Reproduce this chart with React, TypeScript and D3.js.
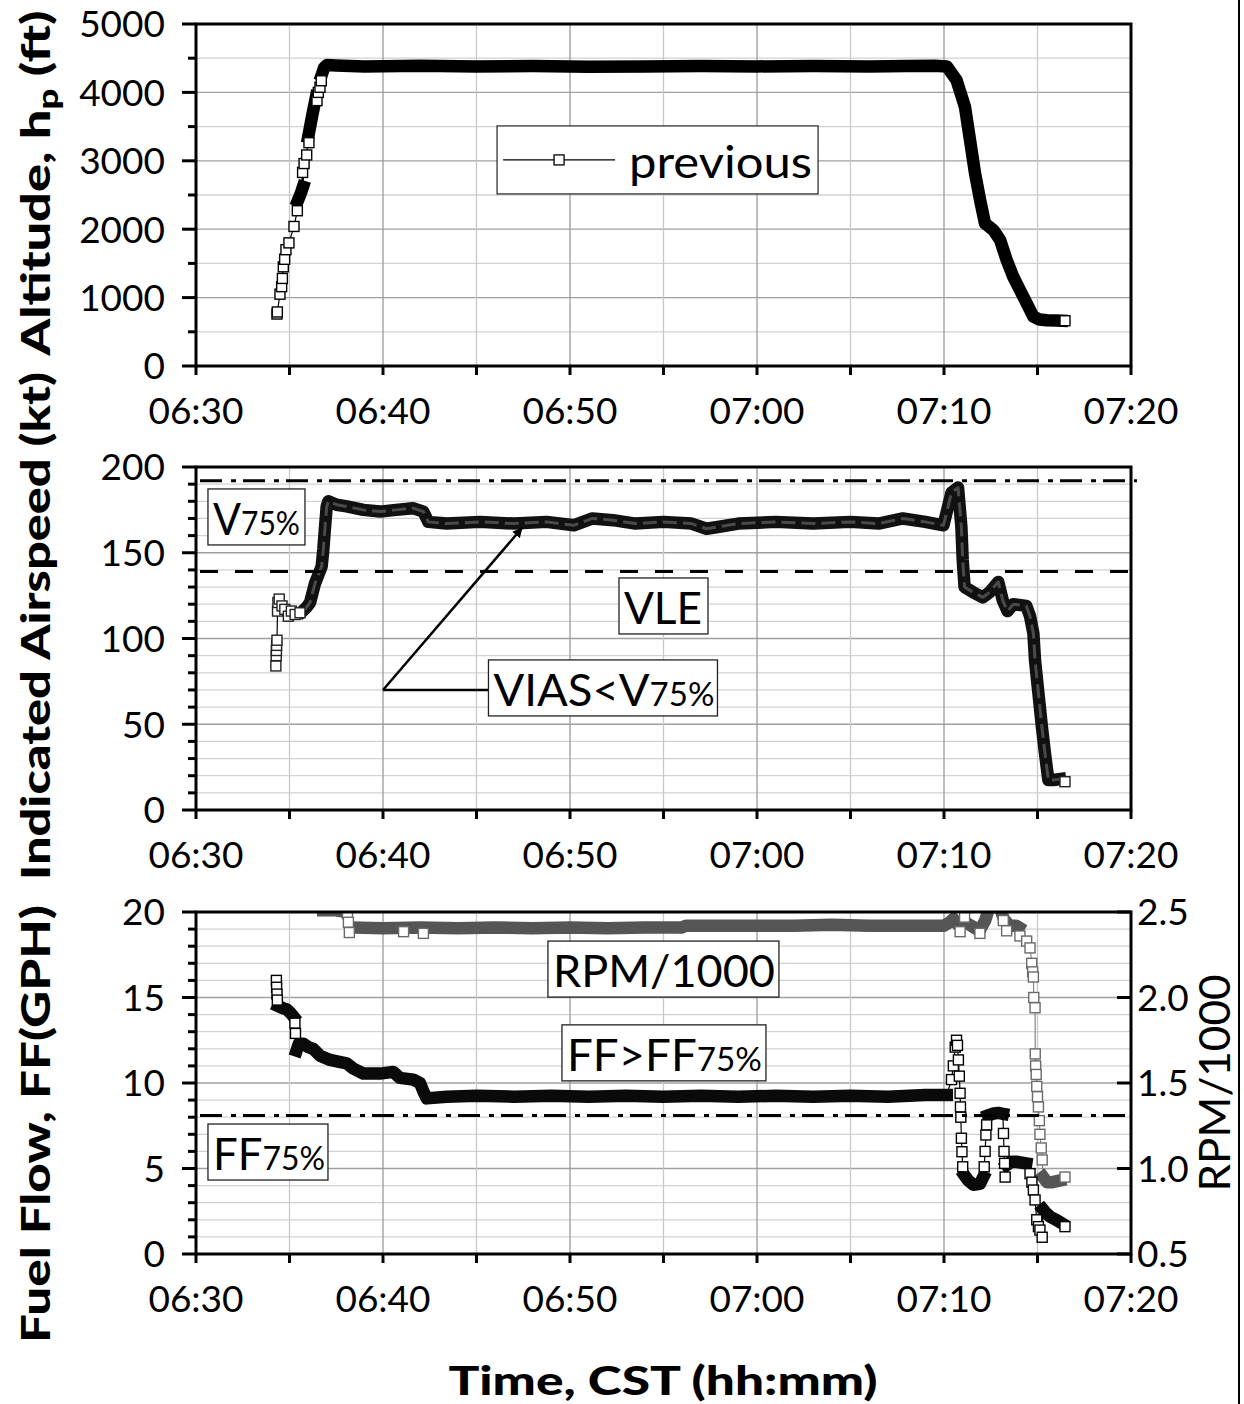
import * as d3 from "d3";

const W = 1244;
const H = 1404;
const LEFT = 196;
const RIGHT = 1131;
const BASE = new Date(2020, 0, 1, 6, 30, 0).getTime();
const at = (m: number) => new Date(BASE + m * 60000);
const NUM_FONT = "Lato, 'Open Sans', sans-serif";

// time values are minutes after 06:30 (CST); null breaks a dense band
const altBandTime = [5.45, 5.6, 5.72, null, 6.0, 6.2, 6.42, null, 6.72, 6.85, 7.0, 7.5, 9, 12, 15, 18, 21, 24, 27, 30, 33, 36, 38, 39.5, 40.15, 40.67, 41.12, 41.39, 41.66, 41.93, 42.19, 42.64, 43.0, 43.35, 43.7, 44.06, 44.42, 44.78, 45.1, 45.5, 46.0, 46.3];
const altBandValue = [2420, 2520, 2620, null, 3350, 3640, 3940, null, 4255, 4360, 4400, 4395, 4380, 4390, 4380, 4385, 4375, 4380, 4385, 4380, 4385, 4380, 4385, 4390, 4380, 4181, 3790, 3304, 2817, 2427, 2086, 1988, 1842, 1550, 1306, 1111, 917, 721, 680, 670, 665, 662];
const altSampleTime = [4.33, 4.35, 4.49, 4.58, 4.62, 4.67, 4.74, 4.81, 4.97, 5.24, 5.42, 5.7, 5.78, 5.92, 6.04, 6.47, 6.54, 6.63, 6.7, 46.47];
const altSampleValue = [760, 790, 1050, 1160, 1280, 1450, 1560, 1700, 1800, 2040, 2270, 2830, 2960, 3085, 3265, 3880, 4000, 4075, 4170, 662];

const iasBandTime = [5.7, 5.9, 6.1, 6.36, 6.54, 6.72, 6.81, 6.9, 6.99, 7.08, 7.52, 8.06, 8.95, 9.84, 10.7, 11.6, 12.16, 12.42, 13.4, 15.2, 17.0, 18.75, 20.2, 21.2, 22.3, 23.5, 25.0, 26.5, 27.3, 27.9, 29.0, 31.0, 33.0, 35.0, 36.5, 37.8, 39.0, 39.97, 40.4, 40.75, 40.93, 41.0, 41.1, 41.55, 42.08, 42.44, 42.9, 43.15, 43.4, 43.7, 44.4, 44.6, 44.78, 44.87, 45.05, 45.23, 45.4, 45.58, 45.85, 46.2];
const iasBandValue = [116, 118, 121, 132, 137, 142, 152, 165, 177, 180, 178, 177, 175, 174, 175, 176, 174, 168, 167, 168, 167, 168, 166, 170, 169, 167, 168, 167, 164, 165, 167, 168, 167, 168, 167, 170, 168, 166, 185, 188, 165, 146, 130, 127, 124, 127, 133, 122, 116, 120, 119, 113, 103, 87, 68, 49, 33, 17.5, 17.5, 18];
const iasSampleTime = [4.27, 4.29, 4.3, 4.31, 4.33, 4.36, 4.38, 4.45, 4.6, 4.75, 4.94, 5.1, 5.3, 5.56, 46.47];
const iasSampleValue = [84, 90, 93, 96, 99, 116, 121, 123, 119, 117, 113, 116, 114, 115, 16.5];

const ffBandTime = [4.4, 4.6, 4.85, 5.05, 5.2, null, 5.38, 5.5, 5.74, 6.0, 6.27, 6.63, 7.17, 7.6, 8.06, 8.41, 8.95, 9.4, 9.84, 10.55, 10.9, 11.62, 11.98, 12.16, 12.34, 13.4, 15, 17, 19, 21, 23, 25, 27, 29, 31, 33, 35, 37, 39, 40.15, null, 41.1, 41.3, 41.57, 41.92, 42.1, null, 42.35, 42.6, 42.9, 43.15, null, 43.35, 43.6, 43.85, 44.1, 44.4, null, 45.3, 45.45, 45.67, 46.0, 46.3];
const ffBandValue = [14.5, 14.4, 14.3, 14.1, 13.9, null, 11.9, 12.3, 12.3, 12.1, 12.0, 11.6, 11.35, 11.25, 11.15, 10.85, 10.55, 10.55, 10.55, 10.65, 10.3, 10.2, 10.0, 9.5, 9.1, 9.2, 9.25, 9.2, 9.25, 9.2, 9.25, 9.2, 9.25, 9.2, 9.25, 9.2, 9.25, 9.2, 9.3, 9.3, null, 4.6, 4.3, 4.05, 4.1, 4.5, null, 8.1, 8.2, 8.25, 8.2, null, 5.2, 5.4, 5.4, 5.35, 5.3, null, 2.6, 2.4, 2.18, 2.0, 1.8];
const ffSampleTime = [4.3, 4.31, 4.33, 4.35, 5.29, 5.32, 40.4, 40.5, 40.6, 40.67, 40.72, 40.77, 40.82, 40.86, 40.88, 40.9, 40.93, 40.96, 41.0, 42.15, 42.2, 42.24, 42.28, 43.18, 43.21, 43.24, 43.27, 44.6, 44.7, 44.78, 44.87, 44.96, 45.05, 45.13, 45.25, 46.47];
const ffSampleValue = [16.0, 15.6, 15.2, 14.85, 13.5, 12.9, 10.2, 11.0, 12.1, 12.5, 12.2, 11.35, 10.4, 9.4, 8.6, 8.0, 6.77, 5.98, 5.1, 5.1, 6.0, 6.96, 7.55, 7.05, 6.0, 5.3, 4.5, 4.7, 4.2, 3.74, 3.16, 2.0, 1.6, 1.4, 0.98, 1.6];

const rpmBandTime = [6.8, 7.5, 8.05, null, 8.3, 10, 12, 14, 16, 18, 20, 22, 24, 26, 26.2, 28, 30, 32, 34, 36, 38, 40.0, 40.3, 40.5, 40.7, 41.0, 41.3, 41.6, 41.9, 42.2, 42.4, 42.7, 43.0, 43.2, 43.5, 43.85, 44.0, null, 45.3, 45.5, 45.8, 46.2];
const rpmBandValue = [2.51, 2.51, 2.5, null, 2.41, 2.405, 2.41, 2.405, 2.41, 2.405, 2.41, 2.405, 2.41, 2.41, 2.42, 2.42, 2.42, 2.42, 2.425, 2.42, 2.42, 2.42, 2.44, 2.46, 2.43, 2.44, 2.43, 2.41, 2.39, 2.45, 2.52, 2.53, 2.52, 2.46, 2.42, 2.42, 2.41, null, 0.95, 0.92, 0.92, 0.93];
const rpmSampleTime = [8.1, 8.15, 8.2, 11.1, 12.16, 40.86, 41.1, 41.92, 43.17, 43.35, 44.06, 44.42, 44.6, 44.69, 44.74, 44.78, 44.8, 44.87, 44.88, 44.9, 44.93, 44.96, 45.0, 45.05, 45.1, 45.13, 45.2, 45.25, 46.47];
const rpmSampleValue = [2.49, 2.44, 2.38, 2.385, 2.375, 2.385, 2.47, 2.375, 2.45, 2.39, 2.36, 2.33, 2.29, 2.2, 2.15, 2.12, 2.0, 1.94, 1.67, 1.6, 1.55, 1.48, 1.42, 1.36, 1.28, 1.2, 1.12, 1.05, 0.95];

const V75 = 192;
const VLE = 139;
const FF75 = 8.1;

const xScale = d3.scaleTime().domain([at(0), at(50)]).range([LEFT, RIGHT]);
const yAlt = d3.scaleLinear().domain([0, 5000]).range([366, 24]);
const yIas = d3.scaleLinear().domain([0, 200]).range([810, 467]);
const yFf = d3.scaleLinear().domain([0, 20]).range([1254, 912]);
const yRpm = d3.scaleLinear().domain([0.5, 2.5]).range([1254, 912]);
const fmtTime = d3.timeFormat("%H:%M");

type Row = [number | null, number | null];
const zip = (ts: (number | null)[], vs: (number | null)[]): Row[] => ts.map((t, i) => [t, vs[i]]);

function Series({ y, bandTime, bandValue, sampleTime, sampleValue, ink, bandInk, innerInk, lineInk, clipId }: any) {
  const band = zip(bandTime, bandValue);
  const samples = zip(sampleTime, sampleValue);
  const all = [...band.filter((d) => d[0] != null), ...samples].sort((a: any, b: any) => a[0] - b[0]);
  const line = d3
    .line<Row>()
    .defined((d) => d[0] != null && d[1] != null)
    .x((d) => xScale(at(d[0] as number)))
    .y((d) => y(d[1]));
  return (
    <g clipPath={`url(#${clipId})`}>
      <path d={line(all) ?? ""} fill="none" stroke={lineInk} strokeWidth={1.2} />
      <path d={line(band) ?? ""} fill="none" stroke={bandInk} strokeWidth={12.5} strokeLinejoin="round" strokeLinecap="square" />
      {innerInk ? <path d={line(band) ?? ""} fill="none" stroke={innerInk} strokeWidth={3} strokeLinejoin="round" strokeDasharray="14 6" /> : null}
      {samples.map(([t, v], i) => (
        <rect key={i} x={xScale(at(t as number)) - 5} y={y(v) - 5} width={10} height={10} fill="#fff" stroke={ink} strokeWidth={1.4} />
      ))}
    </g>
  );
}

function Panel({ y, minor, major, clipId, right, children }: any) {
  const [lo, hi] = y.domain();
  const top = y(hi);
  const bottom = y(lo);
  const n = Math.round((hi - lo) / minor);
  const ratio = Math.round(major / minor);
  const minutes = d3.range(5, 50, 5);
  return (
    <g>
      <defs>
        <clipPath id={clipId}>
          <rect x={LEFT} y={top} width={RIGHT - LEFT} height={bottom - top} />
        </clipPath>
      </defs>
      {d3.range(1, n).map((i) => (
        <line key={`h${i}`} x1={LEFT} x2={RIGHT} y1={y(lo + i * minor)} y2={y(lo + i * minor)} stroke={i % ratio === 0 ? "#a0a0a0" : "#d2d2d2"} strokeWidth={1.3} />
      ))}
      {minutes.map((m) => (
        <line key={`v${m}`} x1={xScale(at(m))} x2={xScale(at(m))} y1={top} y2={bottom} stroke={m % 10 === 0 ? "#9a9a9a" : "#c8c8c8"} strokeWidth={1.3} />
      ))}
      {children}
      {d3.range(0, n + 1).map((i) => (
        <line key={`t${i}`} x1={LEFT - (i % ratio === 0 ? 14 : 8)} x2={LEFT} y1={y(lo + i * minor)} y2={y(lo + i * minor)} stroke="#000" strokeWidth={3} />
      ))}
      {y.ticks(4).map((v: number) => (
        <text key={`l${v}`} x={165} y={y(v)} dy="0.36em" textAnchor="end" fontFamily={NUM_FONT} fontSize={37}>{v}</text>
      ))}
      {d3.range(0, 55, 5).map((m) => (
        <line key={`xt${m}`} x1={xScale(at(m))} x2={xScale(at(m))} y1={bottom} y2={bottom + 9} stroke="#000" strokeWidth={3} />
      ))}
      {xScale.ticks(d3.timeMinute.every(10) as any).map((d) => (
        <text key={`xl${+d}`} x={xScale(d)} y={bottom + 58} textAnchor="middle" fontFamily={NUM_FONT} fontSize={37}>{fmtTime(d)}</text>
      ))}
      {right
        ? right.ticks(4).map((v: number) => (
            <g key={`r${v}`}>
              <line x1={RIGHT - 14} x2={RIGHT} y1={right(v)} y2={right(v)} stroke="#000" strokeWidth={3} />
              <text x={1137} y={right(v)} dy="0.36em" fontFamily={NUM_FONT} fontSize={37}>{v.toFixed(1)}</text>
            </g>
          ))
        : null}
      <rect x={LEFT} y={top} width={RIGHT - LEFT} height={bottom - top} fill="none" stroke="#000" strokeWidth={3} />
    </g>
  );
}

function Label({ t, v, y, w, big, small, len }: any) {
  const x0 = xScale(at(t));
  const y0 = y(v);
  return (
    <g>
      <rect x={x0} y={y0} width={w} height={56} fill="#fff" stroke="#222" strokeWidth={1.3} />
      <text x={x0 + 5} y={y0 + 46} fontFamily={NUM_FONT} fontSize={44} textLength={len} lengthAdjust="spacingAndGlyphs">
        {big}
        {small ? <tspan fontSize={32}>{small}</tspan> : null}
      </text>
    </g>
  );
}

export default function App() {
  const arrowFrom: [number, number] = [xScale(at(10)), yIas(70)];
  const arrowTo: [number, number] = [xScale(at(17.43)), yIas(164.4)];
  const boxLeft = xScale(at(15.64));
  const legendX = xScale(at(16.1));
  const legendY = yAlt(3510);
  return (
    <div style={{ position: "absolute", left: 0, top: 0 }}>
      <svg width={W} height={H} viewBox={`0 0 ${W} ${H}`} style={{ display: "block", background: "#fff" }}>
        <defs>
          <marker id="arrowHead" viewBox="0 0 10 10" refX="9" refY="5" markerWidth="10" markerHeight="10" markerUnits="userSpaceOnUse" orient="auto">
            <path d="M0,0 L10,5 L0,10 z" fill="#000" />
          </marker>
        </defs>

        <Panel y={yAlt} minor={500} major={1000} clipId="clipAlt">
          <Series y={yAlt} bandTime={altBandTime} bandValue={altBandValue} sampleTime={altSampleTime} sampleValue={altSampleValue} ink="#000" bandInk="#000" lineInk="#000" clipId="clipAlt" />
          <rect x={legendX} y={legendY} width={321} height={68} fill="#fff" stroke="#333" strokeWidth={1.3} />
          <line x1={legendX + 6} x2={legendX + 118} y1={legendY + 34} y2={legendY + 34} stroke="#000" strokeWidth={1.3} />
          <rect x={legendX + 57} y={legendY + 29} width={10} height={10} fill="#fff" stroke="#000" strokeWidth={1.3} />
          <text x={legendX + 132} y={legendY + 52} fontFamily={NUM_FONT} fontSize={44} textLength={183} lengthAdjust="spacingAndGlyphs">previous</text>
        </Panel>

        <Panel y={yIas} minor={10} major={50} clipId="clipIas">
          <Series y={yIas} bandTime={iasBandTime} bandValue={iasBandValue} sampleTime={iasSampleTime} sampleValue={iasSampleValue} ink="#222" bandInk="#111" innerInk="#4a4a4a" lineInk="#000" clipId="clipIas" />
          <line x1={LEFT + 4} x2={RIGHT + 6} y1={yIas(V75)} y2={yIas(V75)} stroke="#000" strokeWidth={3} strokeDasharray="22 9 5 7" />
          <line x1={LEFT + 4} x2={RIGHT} y1={yIas(VLE)} y2={yIas(VLE)} stroke="#000" strokeWidth={3} strokeDasharray="18 17" />
          <Label t={0.64} v={187.2} y={yIas} w={97} big="V" small="75%" len={87} />
          <Label t={22.62} v={135.3} y={yIas} w={89} big="VLE" len={78} />
          <line x1={arrowFrom[0]} y1={arrowFrom[1]} x2={boxLeft} y2={arrowFrom[1]} stroke="#000" strokeWidth={2.5} />
          <line x1={arrowFrom[0]} y1={arrowFrom[1]} x2={arrowTo[0]} y2={arrowTo[1]} stroke="#000" strokeWidth={2.5} markerEnd="url(#arrowHead)" />
          <Label t={15.64} v={87.5} y={yIas} w={229} big="VIAS<V" small="75%" len={221} />
        </Panel>

        <Panel y={yFf} minor={1} major={5} clipId="clipFf" right={yRpm}>
          <Series y={yRpm} bandTime={rpmBandTime} bandValue={rpmBandValue} sampleTime={rpmSampleTime} sampleValue={rpmSampleValue} ink="#6a6a6a" bandInk="#555" lineInk="#888" clipId="clipFf" />
          <Series y={yFf} bandTime={ffBandTime} bandValue={ffBandValue} sampleTime={ffSampleTime} sampleValue={ffSampleValue} ink="#000" bandInk="#0a0a0a" lineInk="#000" clipId="clipFf" />
          <line x1={LEFT + 4} x2={RIGHT} y1={yFf(FF75)} y2={yFf(FF75)} stroke="#000" strokeWidth={3} strokeDasharray="22 9 5 7" />
          <Label t={18.82} v={18.3} y={yFf} w={231} big="RPM/1000" len={222} />
          <Label t={19.57} v={13.4} y={yFf} w={204} big="FF>FF" small="75%" len={195} />
          <Label t={0.64} v={7.6} y={yFf} w={120} big="FF" small="75%" len={112} />
        </Panel>

        <g fontFamily={NUM_FONT} fontWeight={900} fontSize={40} fill="#000">
          <text transform="translate(50,183) rotate(-90)" textAnchor="middle" textLength={345} lengthAdjust="spacingAndGlyphs">
            Altitude, h<tspan fontSize={28} dy={8}>p</tspan><tspan dy={-8}> (ft)</tspan>
          </text>
          <text transform="translate(50,626) rotate(-90)" textAnchor="middle" textLength={508} lengthAdjust="spacingAndGlyphs">Indicated Airspeed (kt)</text>
          <text transform="translate(50,1124) rotate(-90)" textAnchor="middle" textLength={438} lengthAdjust="spacingAndGlyphs">Fuel Flow, FF(GPH)</text>
          <text x={663} y={1395} textAnchor="middle" textLength={429} lengthAdjust="spacingAndGlyphs">Time, CST (hh:mm)</text>
        </g>
        <text transform="translate(1230,1083) rotate(-90)" textAnchor="middle" fontFamily={NUM_FONT} fontSize={42} textLength={217} lengthAdjust="spacingAndGlyphs">RPM/1000</text>
        <line x1={1239} x2={1239} y1={0} y2={H} stroke="#000" strokeWidth={2} />
      </svg>
    </div>
  );
}
